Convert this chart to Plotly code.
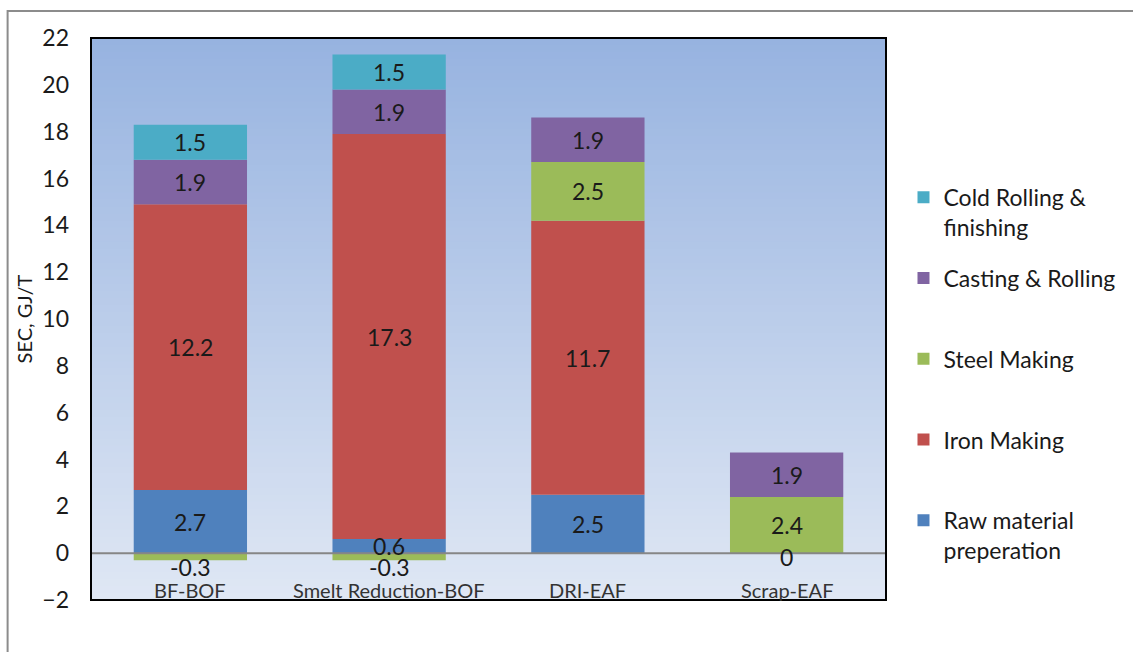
import plotly.graph_objects as go

# Specific energy consumption by steelmaking route (GJ per tonne)
routes = ["BF-BOF", "Smelt Reduction-BOF", "DRI-EAF", "Scrap-EAF"]
raw_material = [2.7, 0.6, 2.5, 0]
iron_making = [12.2, 17.3, 11.7, None]
steel_making = [-0.3, -0.3, 2.5, 2.4]
casting_rolling = [1.9, 1.9, 1.9, 1.9]
cold_rolling = [1.5, 1.5, None, None]

y_ticks = list(range(-2, 23, 2))

# Legend names are padded to two lines so the entries are evenly spaced
series = [
    ("Raw material<br>preperation", raw_material, "#4F81BD"),
    ("Iron Making<br>&nbsp;", iron_making, "#C0504D"),
    ("Steel Making<br>&nbsp;", steel_making, "#9BBB59"),
    ("Casting & Rolling<br>&nbsp;", casting_rolling, "#8064A2"),
    ("Cold Rolling &<br>finishing", cold_rolling, "#4BACC6"),
]

FONT = "Lato"
TEXT = "#1a1a1a"

fig = go.Figure()
for i, (name, vals, color) in enumerate(series):
    fig.add_trace(go.Bar(
        x=routes, y=vals, name=name, marker=dict(color=color, line=dict(width=0)),
        width=0.57, legendgroup=str(i), legendrank=100 - i, hoverinfo="x+y",
    ))

# Segment value labels, centred on each stacked segment
annotations = []
pos_top = [0.0] * len(routes)
neg_bot = [0.0] * len(routes)
for name, vals, color in series:
    for j, v in enumerate(vals):
        if v is None:
            continue
        if v >= 0:
            base = pos_top[j]
            pos_top[j] += v
        else:
            base = neg_bot[j]
            neg_bot[j] += v
        if v < 0:
            ya, yan, ys = base + v, "top", 9
        elif v == 0:
            ya, yan, ys = 0, "middle", -4
        else:
            ya, yan, ys = base + v / 2, "middle", 0
        annotations.append(dict(
            x=routes[j], y=ya, xref="x", yref="y", text=f"{v:g}", showarrow=False,
            yanchor=yan, yshift=ys, font=dict(family=FONT, size=23, color=TEXT),
        ))

# Category labels sit inside the plot area, below the zero line
for r in routes:
    annotations.append(dict(
        x=r, y=-1.5, xref="x", yref="y", text=r, showarrow=False,
        yanchor="middle", yshift=-2, font=dict(family=FONT, size=20, color="#333333"),
    ))

# Vertical gradient for the plot background
shapes = []
top_rgb = (151, 179, 224)
bot_rgb = (223, 231, 244)
n_bands = 80
for k in range(n_bands):
    t = k / (n_bands - 1)
    c = tuple(round(bot_rgb[m] + (top_rgb[m] - bot_rgb[m]) * t) for m in range(3))
    shapes.append(dict(
        type="rect", xref="paper", yref="paper", x0=0, x1=1,
        y0=k / n_bands, y1=(k + 1) / n_bands + 0.002,
        fillcolor=f"rgb{c}", line=dict(width=0), layer="below",
    ))

# Horizontal axis line at zero
shapes.append(dict(type="line", xref="paper", yref="y", x0=0, x1=1, y0=0, y1=0,
                   line=dict(color="#868686", width=2), layer="above"))
# Plot frame
shapes.append(dict(type="rect", xref="paper", yref="paper", x0=0, x1=1, y0=0, y1=1,
                   line=dict(color="#000000", width=2), layer="above"))
# Outer chart border
shapes.append(dict(type="rect", xref="paper", yref="paper", x0=-0.1049, x1=1.32,
                   y0=-0.12, y1=1.048, line=dict(color="#8c8c8c", width=2), layer="below"))

fig.update_layout(
    width=1133, height=652,
    margin=dict(l=91, r=241, t=38, b=52),
    barmode="relative",
    paper_bgcolor="white",
    plot_bgcolor="white",
    font=dict(family=FONT, color=TEXT),
    shapes=shapes,
    annotations=annotations,
    legend=dict(
        x=1.022, y=0.755, xanchor="left", yanchor="top",
        traceorder="grouped", valign="top", tracegroupgap=18,
        font=dict(family=FONT, size=23, color=TEXT),
        bgcolor="rgba(0,0,0,0)",
    ),
    xaxis=dict(showticklabels=False, ticks="", showgrid=False, zeroline=False,
               showline=False, range=[-0.5, 3.5]),
    yaxis=dict(range=[-2, 22], tickvals=y_ticks, ticks="", showgrid=False,
               zeroline=False, showline=False,
               tickfont=dict(family=FONT, size=23, color=TEXT),
               ticklabelstandoff=21,
               title=dict(text="SEC, GJ/T", font=dict(family=FONT, size=20, color=TEXT),
                          standoff=4)),
)

fig.write_html("out.html")
